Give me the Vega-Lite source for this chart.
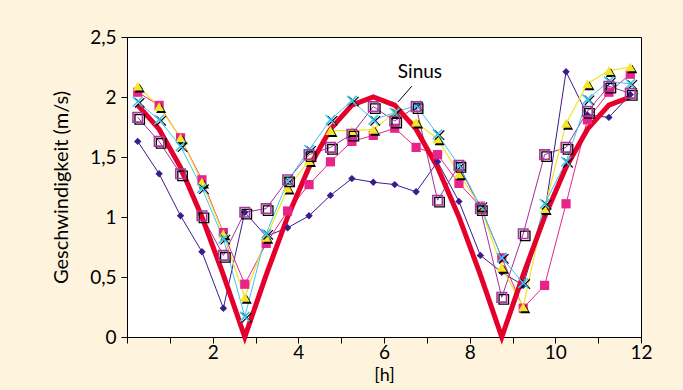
{
  "$schema": "https://vega.github.io/schema/vega-lite/v6.json",
  "width": 514,
  "height": 300,
  "autosize": {"type": "none"},
  "padding": {"left": 127, "top": 37, "right": 42, "bottom": 53},
  "background": "#fef4de",
  "config": {
    "view": {"fill": "white", "stroke": "black", "strokeWidth": 1},
    "font": "Lato",
    "axis": {"grid": false, "domainColor": "black", "tickColor": "black", "labelColor": "black", "titleColor": "black", "titleFontWeight": "normal", "labelFont": "Lato", "titleFont": "Lato"}
  },
  "datasets": {
    "sinus": [
      {"x": 0.25, "y": 1.932}, {"x": 0.75, "y": 1.732}, {"x": 1.25, "y": 1.414}, {"x": 1.75, "y": 1.0},
      {"x": 2.25, "y": 0.518}, {"x": 2.75, "y": 0.0}, {"x": 3.25, "y": 0.518}, {"x": 3.75, "y": 1.0},
      {"x": 4.25, "y": 1.414}, {"x": 4.75, "y": 1.732}, {"x": 5.25, "y": 1.932}, {"x": 5.75, "y": 2.0},
      {"x": 6.25, "y": 1.932}, {"x": 6.75, "y": 1.732}, {"x": 7.25, "y": 1.414}, {"x": 7.75, "y": 1.0},
      {"x": 8.25, "y": 0.518}, {"x": 8.75, "y": 0.0}, {"x": 9.25, "y": 0.518}, {"x": 9.75, "y": 1.0},
      {"x": 10.25, "y": 1.414}, {"x": 10.75, "y": 1.732}, {"x": 11.25, "y": 1.932}, {"x": 11.75, "y": 2.0}
    ],
    "raute": [
      {"x": 0.25, "y": 1.63}, {"x": 0.75, "y": 1.36}, {"x": 1.25, "y": 1.01}, {"x": 1.75, "y": 0.71},
      {"x": 2.25, "y": 0.24}, {"x": 2.75, "y": 1.04}, {"x": 3.25, "y": 0.84}, {"x": 3.75, "y": 0.91},
      {"x": 4.25, "y": 1.01}, {"x": 4.75, "y": 1.18}, {"x": 5.25, "y": 1.32}, {"x": 5.75, "y": 1.29},
      {"x": 6.25, "y": 1.27}, {"x": 6.75, "y": 1.21}, {"x": 7.25, "y": 1.46}, {"x": 7.75, "y": 1.13},
      {"x": 8.25, "y": 0.68}, {"x": 8.75, "y": 0.54}, {"x": 9.25, "y": 0.43}, {"x": 9.75, "y": 1.03},
      {"x": 10.25, "y": 2.21}, {"x": 10.75, "y": 1.85}, {"x": 11.25, "y": 1.83}, {"x": 11.75, "y": 2.02}
    ],
    "quadrat": [
      {"x": 0.25, "y": 2.04}, {"x": 0.75, "y": 1.93}, {"x": 1.25, "y": 1.66}, {"x": 1.75, "y": 1.31},
      {"x": 2.25, "y": 0.87}, {"x": 2.75, "y": 0.44}, {"x": 3.25, "y": 0.78}, {"x": 3.75, "y": 1.05},
      {"x": 4.25, "y": 1.27}, {"x": 4.75, "y": 1.46}, {"x": 5.25, "y": 1.63}, {"x": 5.75, "y": 1.68},
      {"x": 6.25, "y": 1.74}, {"x": 6.75, "y": 1.58}, {"x": 7.25, "y": 1.52}, {"x": 7.75, "y": 1.28},
      {"x": 8.25, "y": 1.09}, {"x": 8.75, "y": 0.66}, {"x": 9.25, "y": 0.24}, {"x": 9.75, "y": 0.43},
      {"x": 10.25, "y": 1.11}, {"x": 10.75, "y": 1.81}, {"x": 11.25, "y": 2.04}, {"x": 11.75, "y": 2.19}
    ],
    "dreieck": [
      {"x": 0.25, "y": 2.09}, {"x": 0.75, "y": 1.92}, {"x": 1.25, "y": 1.66}, {"x": 1.75, "y": 1.29},
      {"x": 2.25, "y": 0.86}, {"x": 2.75, "y": 0.33}, {"x": 3.25, "y": 0.83}, {"x": 3.75, "y": 1.24},
      {"x": 4.25, "y": 1.47}, {"x": 4.75, "y": 1.72}, {"x": 5.25, "y": 1.72}, {"x": 5.75, "y": 1.73},
      {"x": 6.25, "y": 1.87}, {"x": 6.75, "y": 1.79}, {"x": 7.25, "y": 1.65}, {"x": 7.75, "y": 1.36},
      {"x": 8.25, "y": 1.09}, {"x": 8.75, "y": 0.58}, {"x": 9.25, "y": 0.25}, {"x": 9.75, "y": 1.07},
      {"x": 10.25, "y": 1.78}, {"x": 10.75, "y": 2.11}, {"x": 11.25, "y": 2.22}, {"x": 11.75, "y": 2.25}
    ],
    "kreuz": [
      {"x": 0.25, "y": 1.96}, {"x": 0.75, "y": 1.81}, {"x": 1.25, "y": 1.59}, {"x": 1.75, "y": 1.24},
      {"x": 2.25, "y": 0.82}, {"x": 2.75, "y": 0.17}, {"x": 3.25, "y": 0.86}, {"x": 3.75, "y": 1.3},
      {"x": 4.25, "y": 1.56}, {"x": 4.75, "y": 1.81}, {"x": 5.25, "y": 1.97}, {"x": 5.75, "y": 1.81},
      {"x": 6.25, "y": 1.87}, {"x": 6.75, "y": 1.93}, {"x": 7.25, "y": 1.69}, {"x": 7.75, "y": 1.43},
      {"x": 8.25, "y": 1.09}, {"x": 8.75, "y": 0.66}, {"x": 9.25, "y": 0.45}, {"x": 9.75, "y": 1.11},
      {"x": 10.25, "y": 1.46}, {"x": 10.75, "y": 1.98}, {"x": 11.25, "y": 2.13}, {"x": 11.75, "y": 2.11}
    ],
    "offen": [
      {"x": 0.25, "y": 1.83}, {"x": 0.75, "y": 1.63}, {"x": 1.25, "y": 1.36}, {"x": 1.75, "y": 1.01},
      {"x": 2.25, "y": 0.68}, {"x": 2.75, "y": 1.04}, {"x": 3.25, "y": 1.07}, {"x": 3.75, "y": 1.31},
      {"x": 4.25, "y": 1.52}, {"x": 4.75, "y": 1.58}, {"x": 5.25, "y": 1.69}, {"x": 5.75, "y": 1.92},
      {"x": 6.25, "y": 1.8}, {"x": 6.75, "y": 1.92}, {"x": 7.25, "y": 1.14}, {"x": 7.75, "y": 1.43},
      {"x": 8.25, "y": 1.07}, {"x": 8.75, "y": 0.33}, {"x": 9.25, "y": 0.86}, {"x": 9.75, "y": 1.52},
      {"x": 10.25, "y": 1.58}, {"x": 10.75, "y": 1.88}, {"x": 11.25, "y": 2.09}, {"x": 11.75, "y": 2.03}
    ],
    "label": [
      {"x": 6.84, "y": 2.21, "x2": 6.33, "y2": 1.96, "lx": 6.65, "ly": 2.09, "text": "Sinus"}
    ]
  },
  "encoding": {
    "x": {
      "field": "x", "type": "quantitative",
      "scale": {"domain": [0, 12], "nice": false, "zero": false},
      "axis": {
        "title": "[h]", "values": [0, 1, 2, 3, 4, 5, 6, 7, 8, 9, 10, 11, 12],
        "labelExpr": "datum.value % 2 == 0 && datum.value > 0 ? datum.label : ''",
        "tickSize": 6, "labelFontSize": 19, "labelPadding": 0, "titleFontSize": 18, "titlePadding": 4,
        "labelFlush": false
      }
    },
    "y": {
      "field": "y", "type": "quantitative",
      "scale": {"domain": [0, 2.5], "nice": false},
      "axis": {
        "title": "Geschwindigkeit (m/s)", "values": [0, 0.5, 1, 1.5, 2, 2.5], "format": "~g",
        "labelExpr": "replace(datum.label, '.', ',')",
        "tickSize": 6, "labelFontSize": 19, "labelPadding": 5, "titleFontSize": 20, "titlePadding": 18
      }
    }
  },
  "layer": [
    {"data": {"name": "raute"}, "mark": {"type": "line", "color": "#3b1c8c", "strokeWidth": 1}},
    {"data": {"name": "offen"}, "mark": {"type": "line", "color": "#a0309a", "strokeWidth": 1}},
    {"data": {"name": "quadrat"}, "mark": {"type": "line", "color": "#e8238a", "strokeWidth": 1}},
    {"data": {"name": "dreieck"}, "mark": {"type": "line", "color": "#f2e22a", "strokeWidth": 1.2}},
    {"data": {"name": "kreuz"}, "mark": {"type": "line", "color": "#3cc4f0", "strokeWidth": 1}},
    {"data": {"name": "sinus"}, "mark": {"type": "line", "color": "#e4002b", "strokeWidth": 5}},
    {"data": {"name": "raute"}, "mark": {"type": "point", "shape": "diamond", "filled": true, "color": "#3b1c8c", "size": 55, "opacity": 1}},
    {"data": {"name": "quadrat"}, "mark": {"type": "point", "shape": "square", "filled": true, "color": "#e8238a", "size": 85, "opacity": 1}},
    {"data": {"name": "dreieck"}, "mark": {"type": "point", "shape": "triangle-up", "filled": true, "color": "black", "size": 100, "opacity": 1, "xOffset": 2, "yOffset": 2}},
    {"data": {"name": "dreieck"}, "mark": {"type": "point", "shape": "triangle-up", "filled": true, "color": "#f4e526", "size": 100, "opacity": 1}},
    {"data": {"name": "kreuz"}, "mark": {"type": "point", "shape": "M-1,-1L1,1M-1,1L1,-1", "filled": false, "color": "black", "strokeWidth": 1.2, "size": 90, "opacity": 1, "xOffset": 2, "yOffset": 1}},
    {"data": {"name": "kreuz"}, "mark": {"type": "point", "shape": "M-1,-1L1,1M-1,1L1,-1", "filled": false, "color": "#3cc4f0", "strokeWidth": 1.6, "size": 90, "opacity": 1}},
    {"data": {"name": "offen"}, "mark": {"type": "point", "shape": "square", "filled": false, "color": "black", "strokeWidth": 1.3, "size": 90, "opacity": 1, "xOffset": 2, "yOffset": 2}},
    {"data": {"name": "offen"}, "mark": {"type": "point", "shape": "square", "filled": false, "color": "#a8379a", "strokeWidth": 1.6, "size": 90, "opacity": 1}},
    {
      "data": {"name": "label"},
      "mark": {"type": "rule", "color": "black", "strokeWidth": 1},
      "encoding": {
        "x": {"field": "lx", "type": "quantitative"},
        "y": {"field": "ly", "type": "quantitative"},
        "x2": {"field": "x2"},
        "y2": {"field": "y2"}
      }
    },
    {
      "data": {"name": "label"},
      "mark": {"type": "text", "fontSize": 19, "color": "black", "font": "Lato"},
      "encoding": {"text": {"field": "text"}}
    }
  ]
}
